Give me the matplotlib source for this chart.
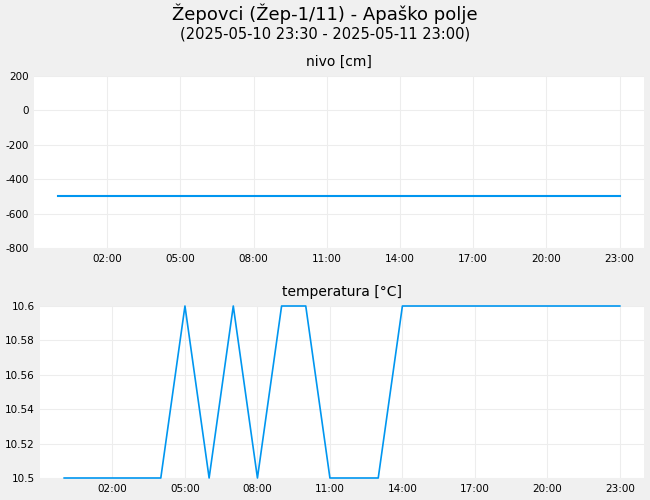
import pandas as pd
import matplotlib
matplotlib.use("Agg")
import matplotlib.pyplot as plt
import matplotlib.dates as mdates

plt.rcParams['axes.unicode_minus'] = False

# nivo: constant level over the day
nivo_times = ["2025-05-11 00:00", "2025-05-11 23:00"]
nivo_values = [-500, -500]

# temperatura: break points of the series
temp_times = ["2025-05-11 00:00", "2025-05-11 04:00", "2025-05-11 05:00", "2025-05-11 06:00",
              "2025-05-11 07:00", "2025-05-11 08:00", "2025-05-11 09:00", "2025-05-11 10:00",
              "2025-05-11 11:00", "2025-05-11 13:00", "2025-05-11 14:00", "2025-05-11 23:00"]
temp_values = [10.5, 10.5, 10.6, 10.5, 10.6, 10.5, 10.6, 10.6, 10.5, 10.5, 10.6, 10.6]

title = "Žepovci (Žep-1/11) - Apaško polje"
subtitle = "(2025-05-10 23:30 - 2025-05-11 23:00)"

nivo_t = pd.to_datetime(nivo_times)
temp_t = pd.to_datetime(temp_times)
x_start = pd.Timestamp("2025-05-10 23:00")
x_end = pd.Timestamp("2025-05-12 00:00")
tick_times = pd.date_range("2025-05-11 02:00", "2025-05-11 23:00", freq="3h")

line_color = "#0096f0"
bg = "#f0f0f0"
grid_color = "#ededed"

fig = plt.figure(figsize=(6.5, 5), dpi=100, facecolor=bg)
fig.text(0.5, 1 - 14 / 500, title, ha="center", va="center", fontsize=13)
fig.text(0.5, 1 - 34 / 500, subtitle, ha="center", va="center", fontsize=10.5)


def style_axes(ax, name):
    ax.set_facecolor("white")
    for s in ax.spines.values():
        s.set_visible(False)
    ax.grid(True, color=grid_color, linewidth=0.8)
    ax.set_axisbelow(True)
    ax.tick_params(length=0, labelsize=7.5, pad=4)
    ax.set_xlim(x_start, x_end)
    ax.set_xticks(tick_times)
    ax.xaxis.set_major_formatter(mdates.DateFormatter("%H:%M"))
    ax.set_title(name, fontsize=10, pad=7)


# top: nivo
ax1 = fig.add_axes([34 / 650, 1 - 248 / 500, 610 / 650, 172 / 500])
ax1.plot(nivo_t, nivo_values, color=line_color, linewidth=1.5)
ax1.set_ylim(-800, 200)
ax1.set_yticks(range(-800, 201, 200))
style_axes(ax1, "nivo [cm]")

# bottom: temperatura
ax2 = fig.add_axes([40 / 650, 1 - 478 / 500, 604 / 650, 172 / 500])
ax2.plot(temp_t, temp_values, color=line_color, linewidth=1.2, clip_on=False)
ax2.set_ylim(10.5, 10.6)
ax2.set_yticks([10.5, 10.52, 10.54, 10.56, 10.58, 10.6])
ax2.set_yticklabels(["10.5", "10.52", "10.54", "10.56", "10.58", "10.6"])
style_axes(ax2, "temperatura [°C]")

fig.savefig("out.png", dpi=100, facecolor=bg)
